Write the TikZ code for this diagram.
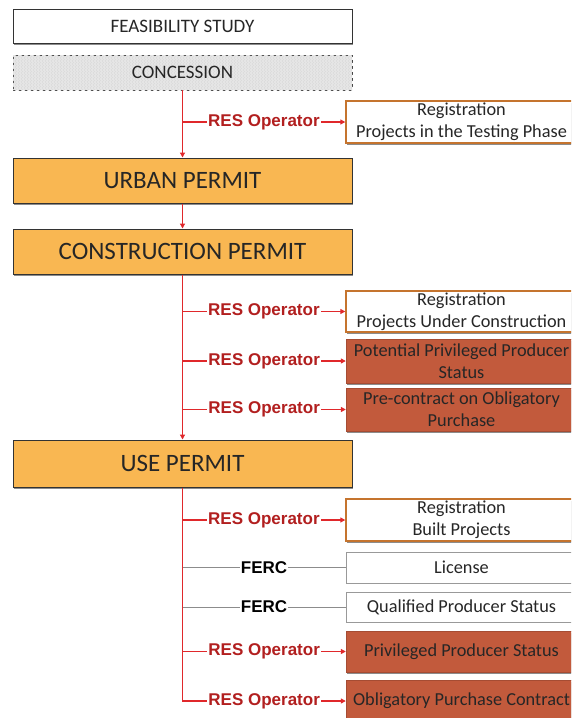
\documentclass[tikz,border=0pt]{standalone}
\usepackage{fontspec}
\setmainfont{Carlito}
\newfontfamily\labfont{Liberation Sans}
\usetikzlibrary{arrows.meta,shadows,patterns}
\definecolor{permit}{HTML}{F9B752}
\definecolor{brick}{HTML}{C25A3C}
\definecolor{obord}{HTML}{C5742E}
\definecolor{redln}{HTML}{E0282B}
\definecolor{redtx}{HTML}{B21F1F}
\tikzset{
  shd/.style={drop shadow={shadow xshift=1.2pt,shadow yshift=-1.5pt,opacity=0.45,fill=black}},
  topbox/.style={draw=black!80,line width=1pt,minimum width=339pt,inner sep=0pt,align=center,text=black!85},
  permitbox/.style={topbox,fill=permit,shd,font=\fontsize{25}{28}\selectfont},
  rbox/.style={minimum width=231pt,inner sep=0pt,align=center,text=black!85,font=\fontsize{18.3}{22}\selectfont},
  regbox/.style={rbox,draw=obord,line width=1.4pt,fill=white,shd},
  whitebox/.style={rbox,draw=black!40,line width=0.8pt,fill=white},
  brickbox/.style={rbox,fill=brick,draw=brick!85!black,line width=0.4pt,shd},
  redline/.style={draw=redln,line width=1.2pt,-{Triangle[length=5pt,width=5pt]}},
  grayline/.style={draw=black!45,line width=0.9pt},
  reslab/.style={fill=white,inner sep=1pt,text=redtx,font=\labfont\bfseries\fontsize{17}{18}\selectfont},
  fercLab/.style={fill=white,inner sep=1pt,text=black,font=\labfont\bfseries\fontsize{17}{18}\selectfont}
}
\begin{document}
\begin{tikzpicture}[x=1pt,y=-1pt]
\useasboundingbox (0,0) rectangle (571,718);
\fill[white] (0,0) rectangle (571,718);
\clip (0,0) rectangle (571,718);

\node[topbox,fill=white,shd,minimum height=34pt,font=\fontsize{19}{22}\selectfont] (feas) at (182.5,26) {FEASIBILITY STUDY};
\node[topbox,dashed,draw=black!75,line width=0.9pt,minimum height=35pt,fill=black!9,
      postaction={pattern=north east lines,pattern color=black!14},
      postaction={pattern=north west lines,pattern color=black!14},
      font=\fontsize{19}{22}\selectfont] (conc) at (182.5,72.5) {CONCESSION};
\node[permitbox,minimum height=45pt] (urban) at (182.5,180.5) {URBAN PERMIT};
\node[permitbox,minimum height=45pt] (constr) at (182.5,251.5) {CONSTRUCTION PERMIT};
\node[permitbox,minimum height=47pt] (use) at (182.5,463.5) {USE PERMIT};

\node[regbox,minimum height=42pt] (r1) at (461.5,122) {Registration\\Projects in the Testing Phase};
\node[regbox,minimum height=41pt] (r2) at (461.5,311.5) {Registration\\Projects Under Construction};
\node[brickbox,minimum height=44pt] (r3) at (461.5,361) {Potential Privileged Producer\\Status};
\node[brickbox,minimum height=43pt] (r4) at (461.5,409.5) {Pre-contract on Obligatory\\Purchase};
\node[regbox,minimum height=42pt] (r5) at (461.5,520) {Registration\\Built Projects};
\node[whitebox,minimum height=31pt] (r6) at (461.5,567.5) {License};
\node[whitebox,minimum height=30pt] (r7) at (461.5,607) {Qualified Producer Status};
\node[brickbox,minimum height=41pt] (r8) at (461.5,651.5) {Privileged Producer Status};
\node[brickbox,minimum height=42pt] (r9) at (461.5,701) {Obligatory Purchase Contract};

% main spine
\draw[redline] (conc.south) -- (urban.north);
\draw[redline] (urban.south) -- (constr.north);
\draw[redline] (constr.south) -- (use.north);

% branches
\draw[redline] (conc.south |- r1.west) -- node[reslab]{RES Operator} (r1.west);
\draw[redline] (constr.south |- r2.west) -- node[reslab]{RES Operator} (r2.west);
\draw[redline] (constr.south |- r3.west) -- node[reslab]{RES Operator} (r3.west);
\draw[redline] (constr.south |- r4.west) -- node[reslab]{RES Operator} (r4.west);
\draw[redline] (use.south |- r5.west) -- node[reslab]{RES Operator} (r5.west);
\draw[grayline] (use.south |- r6.west) -- node[fercLab]{FERC} (r6.west);
\draw[grayline] (use.south |- r7.west) -- node[fercLab]{FERC} (r7.west);
\draw[redline] (use.south |- r8.west) -- node[reslab]{RES Operator} (r8.west);
\draw[redline] (use.south) |- node[reslab,pos=0.75]{RES Operator} (r9.west);
\end{tikzpicture}
\end{document}
